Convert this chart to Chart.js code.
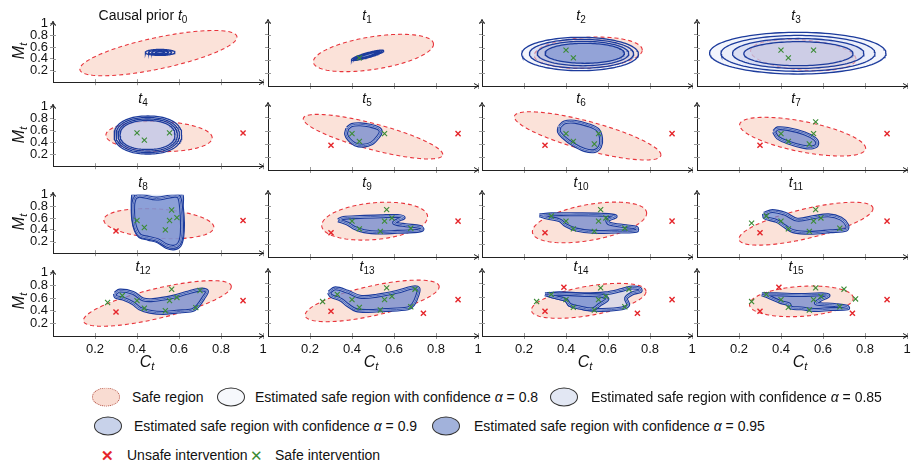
<!DOCTYPE html>
<html>
<head>
<meta charset="utf-8">
<script src="https://cdn.jsdelivr.net/npm/chart.js@4.4.1/dist/chart.umd.min.js"></script>
<style>
  body { margin: 0; width: 911px; height: 461px; position: relative; overflow: hidden; background: #fff;
         font-family: "Liberation Sans", Arial, sans-serif; color: #111; }
  canvas { position: absolute; }
  .ttl { position: absolute; font-size: 14px; line-height: 14px; white-space: nowrap; transform: translateX(-50%); }
  .sub { font-size: 10px; position: relative; top: 3px; font-style: normal; }
  .ylab { position: absolute; font-size: 16px; font-style: italic; white-space: nowrap; transform: translate(-50%, -50%) rotate(-90deg); }
  .xlab { position: absolute; font-size: 16px; font-style: italic; white-space: nowrap; transform: translate(-50%, -50%); }
  .lg { position: absolute; font-size: 14px; line-height: 14px; white-space: nowrap; transform: translateY(-50%); }
  .ico { position: absolute; width: 28px; height: 19px; border-radius: 50%; box-sizing: border-box; transform: translateY(-50%); }
  .mk { position: absolute; font-size: 15px; transform: translateY(-50%); line-height: 15px; }
</style>
</head>
<body>
<script>
// intervention points (shared by all panels, revealed step by step)
const safeX = [0.435, 0.40, 0.555, 0.535, 0.565, 0.59, 0.68, 0.33, 0.26, 0.70, 0.755];
const safeY = [0.44, 0.56, 0.56, 0.40, 0.74, 0.61, 0.45, 0.64, 0.53, 0.72, 0.57];
const safeCount = [0, 1, 2, 3, 3, 3, 4, 5, 6, 7, 8, 9, 10, 10, 10, 11];
const unsafeX = [0.905, 0.30, 0.74, 0.39];
const unsafeY = [0.56, 0.38, 0.35, 0.75];
const unsafeCount = [0, 0, 0, 0, 1, 2, 2, 2, 2, 2, 2, 2, 2, 3, 4, 4];

const tickValues = [0.2, 0.4, 0.6, 0.8, 1];
const stepLabels = ['Causal prior ', '', '', '', '', '', '', '', '', '', '', '', '', '', '', ''];

// safe region per panel: centre x, centre y, half width, half height, phase (deg)
const safeRegion = [
  [0.502, 0.498, 0.374, 0.388, 45], [0.502, 0.516, 0.286, 0.292, 62],
  [0.506, 0.52, 0.257, 0.245, 80], [0.506, 0.484, 0.251, 0.245, 105],
  [0.505, 0.50, 0.253, 0.255, 95], [0.50, 0.513, 0.332, 0.343, 143],
  [0.503, 0.525, 0.349, 0.371, 142], [0.503, 0.513, 0.30, 0.298, 127],
  [0.504, 0.506, 0.262, 0.258, 104], [0.508, 0.56, 0.252, 0.296, 77],
  [0.512, 0.54, 0.272, 0.318, 63], [0.519, 0.52, 0.319, 0.335, 45],
  [0.497, 0.515, 0.352, 0.361, 42], [0.496, 0.54, 0.319, 0.32, 47],
  [0.508, 0.541, 0.273, 0.269, 58], [0.497, 0.533, 0.247, 0.236, 78]
];

// early estimated regions as nested ellipses: cx, cy, half w, half h, phase, level, squareness
const ringEllipses = [
  [[0.51, 0.51, 0.071, 0.052, 90, 0], [0.51, 0.51, 0.055, 0.04, 90, 1], [0.51, 0.51, 0.04, 0.029, 90, 2], [0.51, 0.51, 0.023, 0.017, 90, 3]],
  [[0.474, 0.48, 0.077, 0.08, 30, 0], [0.474, 0.48, 0.068, 0.07, 26, 1], [0.474, 0.48, 0.059, 0.061, 22, 2], [0.474, 0.48, 0.05, 0.052, 18, 3]],
  [[0.467, 0.50, 0.278, 0.261, 90, 0], [0.474, 0.504, 0.248, 0.226, 90, 1], [0.481, 0.507, 0.218, 0.191, 90, 2], [0.489, 0.511, 0.189, 0.156, 90, 3]],
  [[0.48, 0.513, 0.42, 0.326, 90, 0], [0.481, 0.51, 0.367, 0.28, 90, 0], [0.482, 0.508, 0.313, 0.234, 90, 1], [0.483, 0.505, 0.26, 0.188, 90, 1]],
  [[0.452, 0.525, 0.161, 0.32, 90, 0, 2.2], [0.451, 0.525, 0.151, 0.295, 90, 0, 2.2], [0.451, 0.525, 0.141, 0.27, 90, 1, 2.2], [0.45, 0.525, 0.131, 0.244, 90, 1, 2.2]],
  null, null, null, null, null, null, null, null, null, null, null
];

// later estimated regions as outlines: [level, points]
const blobs = [
  null, null, null, null, null,
  [[3, [[.378,.641],[.399,.692],[.439,.703],[.486,.682],[.525,.641],[.537,.59],[.525,.513],[.494,.41],[.454,.374],[.415,.395],[.388,.462],[.372,.549]]]],
  [[3, [[.369,.666],[.393,.733],[.44,.743],[.504,.692],[.552,.615],[.567,.487],[.562,.359],[.536,.292],[.488,.308],[.433,.395],[.385,.513],[.366,.59]]]],
  [[3, [[.366,.59],[.385,.641],[.432,.631],[.512,.564],[.562,.477],[.572,.395],[.551,.349],[.504,.359],[.432,.426],[.385,.497]]]],
  [[1, [[.382,1.03],[.379,.833],[.382,.574],[.394,.392],[.413,.29],[.453,.248],[.50,.202],[.54,.109],[.575,.082],[.603,.134],[.616,.29],[.619,.522],[.614,.78],[.603,1.03]]],
   [3, [[.39,.95],[.382,.833],[.384,.574],[.396,.40],[.415,.30],[.455,.262],[.50,.22],[.54,.135],[.575,.11],[.60,.16],[.612,.29],[.614,.522],[.61,.78],[.60,.96],[.58,.985],[.493,.935],[.413,.985]]]],
  [[3, [[.334,.574],[.359,.61],[.438,.625],[.537,.636],[.617,.641],[.646,.615],[.617,.574],[.601,.532],[.656,.496],[.725,.47],[.735,.429],[.696,.403],[.617,.393],[.537,.382],[.458,.403],[.409,.46],[.379,.522]]]],
  [[3, [[.274,.651],[.33,.667],[.448,.667],[.567,.661],[.636,.636],[.597,.574],[.607,.522],[.686,.481],[.736,.455],[.736,.408],[.646,.398],[.527,.393],[.448,.429],[.399,.496],[.369,.574],[.31,.615]]]],
  [[3, [[.319,.677],[.359,.718],[.418,.677],[.477,.584],[.557,.625],[.626,.651],[.685,.6],[.715,.496],[.711,.429],[.636,.403],[.537,.377],[.458,.403],[.418,.481],[.379,.563],[.323,.615]]]],
  [[3, [[.295,.672],[.318,.718],[.381,.682],[.429,.58],[.477,.569],[.571,.62],[.635,.682],[.698,.733],[.733,.708],[.717,.605],[.69,.477],[.664,.41],[.588,.385],[.524,.364],[.461,.385],[.413,.436],[.381,.518],[.334,.59],[.299,.62]]]],
  [[3, [[.29,.672],[.32,.733],[.379,.682],[.438,.605],[.518,.62],[.617,.682],[.686,.744],[.716,.733],[.712,.631],[.692,.487],[.666,.425],[.557,.40],[.478,.385],[.419,.40],[.379,.477],[.349,.554],[.30,.62]]]],
  [[1, [[.30,.641],[.369,.656],[.488,.641],[.587,.656],[.666,.708],[.706,.744],[.749,.733],[.755,.692],[.716,.656],[.686,.58],[.696,.477],[.666,.425],[.567,.40],[.508,.41],[.468,.436],[.419,.477],[.399,.554],[.339,.605]]],
   [3, [[.31,.641],[.369,.651],[.488,.631],[.567,.62],[.597,.569],[.558,.477],[.527,.41],[.468,.436],[.419,.477],[.399,.554],[.339,.605]]]],
  [[3, [[.309,.641],[.379,.641],[.497,.631],[.596,.641],[.626,.62],[.586,.554],[.567,.503],[.656,.477],[.715,.451],[.719,.425],[.636,.415],[.557,.40],[.497,.425],[.448,.436],[.438,.487],[.398,.523],[.339,.605]]]]
];

// styling
const ringFill = ['rgba(215,222,245,0.3)', 'rgba(185,192,230,0.35)', 'rgba(160,180,226,0.5)', 'rgba(118,142,208,0.6)'];
const blobFill = ['rgba(226,233,248,0.5)', 'rgba(200,212,240,0.6)', 'rgba(160,180,226,0.7)', 'rgba(112,136,206,0.75)'];
const blue = '#1c3b9c';
const colL = [53, 268, 482, 697];
const rowT = [22, 105, 193, 271];
const rowH = [64, 65, 64, 65];
const plotW = 210;

Chart.defaults.font.family = '"Liberation Sans", Arial, sans-serif';
Chart.defaults.color = '#111';

function ellipsePts(e) {
  const [cx, cy, ax, ay, phi, , sq] = e;
  const f = phi * Math.PI / 180;
  const pts = [];
  for (let k = 0; k <= 120; k++) {
    const t = k / 120 * 2 * Math.PI;
    let a = Math.cos(t), b = Math.cos(t - f);
    if (sq) {
      a = Math.sign(a) * Math.pow(Math.abs(a), 2 / sq);
      b = Math.sign(b) * Math.pow(Math.abs(b), 2 / sq);
    }
    pts.push({ x: cx + ax * a, y: cy + ay * b });
  }
  return pts;
}

const axisArrows = {
  id: 'axisArrows',
  afterDraw(chart) {
    const { ctx, scales: { x, y } } = chart;
    const x0 = x.getPixelForValue(0), x1 = x.getPixelForValue(1);
    const y0 = y.getPixelForValue(0), y1 = y.getPixelForValue(1);
    ctx.save();
    ctx.strokeStyle = '#999';
    ctx.lineWidth = 1;
    ctx.beginPath();
    tickValues.forEach(v => {
      const px = Math.round(x.getPixelForValue(v)) + 0.5;
      ctx.moveTo(px, y0); ctx.lineTo(px, y0 - 3);
      const py = Math.round(y.getPixelForValue(v)) + 0.5;
      ctx.moveTo(x0, py); ctx.lineTo(x0 + 3, py);
    });
    ctx.stroke();
    ctx.strokeStyle = '#222';
    ctx.lineWidth = 1;
    ctx.beginPath();
    ctx.moveTo(x1 - 4, y0 - 2.5); ctx.lineTo(x1 + 0.5, y0); ctx.lineTo(x1 - 4, y0 + 2.5);
    ctx.moveTo(x0 - 2.5, y1 + 2); ctx.lineTo(x0, y1 - 2.5); ctx.lineTo(x0 + 2.5, y1 + 2);
    ctx.moveTo(x0, y1 + 1); ctx.lineTo(x0, y1 - 2.5);
    ctx.stroke();
    ctx.restore();
  }
};

function addText(cls, html, left, top) {
  const d = document.createElement('div');
  d.className = cls;
  d.innerHTML = html;
  d.style.left = left + 'px';
  d.style.top = top + 'px';
  document.body.appendChild(d);
  return d;
}

const tickFmt = v => String(Math.round(v * 10) / 10);

for (let i = 0; i < 16; i++) {
  const r = Math.floor(i / 4), c = i % 4;
  const bottomH = r === 3 ? 32 : 6;
  const cv = document.createElement('canvas');
  cv.width = 53 + plotW + 8;
  cv.height = 8 + rowH[r] + bottomH;
  cv.style.left = (colL[c] - 53) + 'px';
  cv.style.top = (rowT[r] - 8) + 'px';
  document.body.appendChild(cv);

  const ds = [];
  const sr = safeRegion[i];
  ds.push({
    data: ellipsePts(sr), showLine: true, fill: 'shape', pointRadius: 0,
    backgroundColor: '#fbe2d9', borderColor: '#e8353c', borderWidth: 1.1, borderDash: [4, 3]
  });
  if (ringEllipses[i]) {
    ringEllipses[i].forEach(e => {
      ds.push({
        data: ellipsePts(e), showLine: true, fill: 'shape', pointRadius: 0,
        backgroundColor: ringFill[e[5]], borderColor: blue, borderWidth: 1.3
      });
    });
  }
  if (blobs[i]) {
    blobs[i].forEach(([lvl, poly]) => {
      const pts = poly.concat([poly[0]]).map(p => ({ x: p[0], y: p[1] }));
      ds.push({ data: pts, showLine: true, fill: 'shape', pointRadius: 0, tension: 0.35,
        backgroundColor: blobFill[lvl], borderColor: blue, borderWidth: 4 });
      ds.push({ data: pts, showLine: true, fill: false, pointRadius: 0, tension: 0.35,
        borderColor: 'rgba(205,215,242,0.9)', borderWidth: 1.8 });
      ds.push({ data: pts, showLine: true, fill: false, pointRadius: 0, tension: 0.35,
        borderColor: blue, borderWidth: 0.7 });
    });
  }
  const sPts = [];
  for (let k = 0; k < safeCount[i]; k++) sPts.push({ x: safeX[k], y: safeY[k] });
  const uPts = [];
  for (let k = 0; k < unsafeCount[i]; k++) uPts.push({ x: unsafeX[k], y: unsafeY[k] });
  ds.push({ data: uPts, pointStyle: 'crossRot', pointRadius: 3.6, borderColor: '#e5262b', borderWidth: 1.4 });
  ds.push({ data: sPts, pointStyle: 'crossRot', pointRadius: 3.6, borderColor: '#3b8b35', borderWidth: 1.1 });
  ds.forEach((d, k) => { d.order = ds.length - k; });

  new Chart(cv, {
    type: 'scatter',
    data: { datasets: ds },
    plugins: [axisArrows],
    options: {
      responsive: false,
      animation: false,
      events: [],
      layout: { padding: { top: 8, right: 8, left: 0, bottom: 0 } },
      plugins: { legend: { display: false }, tooltip: { enabled: false } },
      scales: {
        x: {
          type: 'linear', min: 0, max: 1,
          afterBuildTicks: a => { a.ticks = tickValues.map(v => ({ value: v })); },
          afterFit: s => { s.height = bottomH; },
          border: { display: true, color: '#222', width: 1 },
          grid: { drawOnChartArea: false, drawTicks: true, tickLength: 3, color: '#999' },
          ticks: { display: r === 3, autoSkip: false, padding: 3, font: { size: 13 }, color: '#111',
                   maxRotation: 0, callback: tickFmt }
        },
        y: {
          type: 'linear', min: 0, max: 1,
          afterBuildTicks: a => { a.ticks = tickValues.map(v => ({ value: v })); },
          afterFit: s => { s.width = 53; },
          border: { display: true, color: '#222', width: 1 },
          grid: { drawOnChartArea: false, drawTicks: true, tickLength: 3, color: '#999' },
          ticks: { display: c === 0, autoSkip: false, padding: 2, font: { size: 13 }, color: '#111',
                   callback: tickFmt }
        }
      }
    }
  });

  // panel title
  const baseline = [19, 102, 186, 270][r];
  const cx = c === 0 ? 143 : colL[c] + 99;
  addText('ttl', stepLabels[i] + '<i>t</i><span class="sub">' + i + '</span>', cx, baseline - 11);
  if (c === 0) addText('ylab', 'M<span class="sub" style="font-size:11px;font-style:italic">t</span>', 19, rowT[r] + rowH[r] / 2 - 3);
  if (r === 3) addText('xlab', 'C<span class="sub" style="font-size:11px;font-style:italic">t</span>', colL[c] + (c === 0 ? 94 : 103), 362);
}

// legend
const legendSwatches = [
  { x: 92, y: 397, bg: '#f9dcd2', bd: '1px dotted #b5584c', text: 'Safe region', tx: 132 },
  { x: 217, y: 397, bg: '#f6f8fc', bd: '1px solid #333', text: 'Estimated safe region with confidence <i>α</i> = 0.8', tx: 255 },
  { x: 550, y: 397, bg: '#e2e7f3', bd: '1px solid #333', text: 'Estimated safe region with confidence <i>α</i> = 0.85', tx: 591 },
  { x: 94, y: 426, bg: '#c8d2ea', bd: '1px solid #333', text: 'Estimated safe region with confidence <i>α</i> = 0.9', tx: 134 },
  { x: 432, y: 426, bg: '#a2b2db', bd: '1px solid #333', text: 'Estimated safe region with confidence <i>α</i> = 0.95', tx: 474 }
];
legendSwatches.forEach(s => {
  const ic = addText('ico', '', s.x, s.y);
  ic.style.background = s.bg;
  ic.style.border = s.bd;
  addText('lg', s.text, s.tx, s.y);
});
const m1 = addText('mk', '✕', 101, 455); m1.style.color = '#e5262b'; m1.style.fontWeight = 'bold';
addText('lg', 'Unsafe intervention', 127, 455);
const m2 = addText('mk', '✕', 250, 455); m2.style.color = '#3b8b35';
addText('lg', 'Safe intervention', 275, 455);
</script>
</body>
</html>
